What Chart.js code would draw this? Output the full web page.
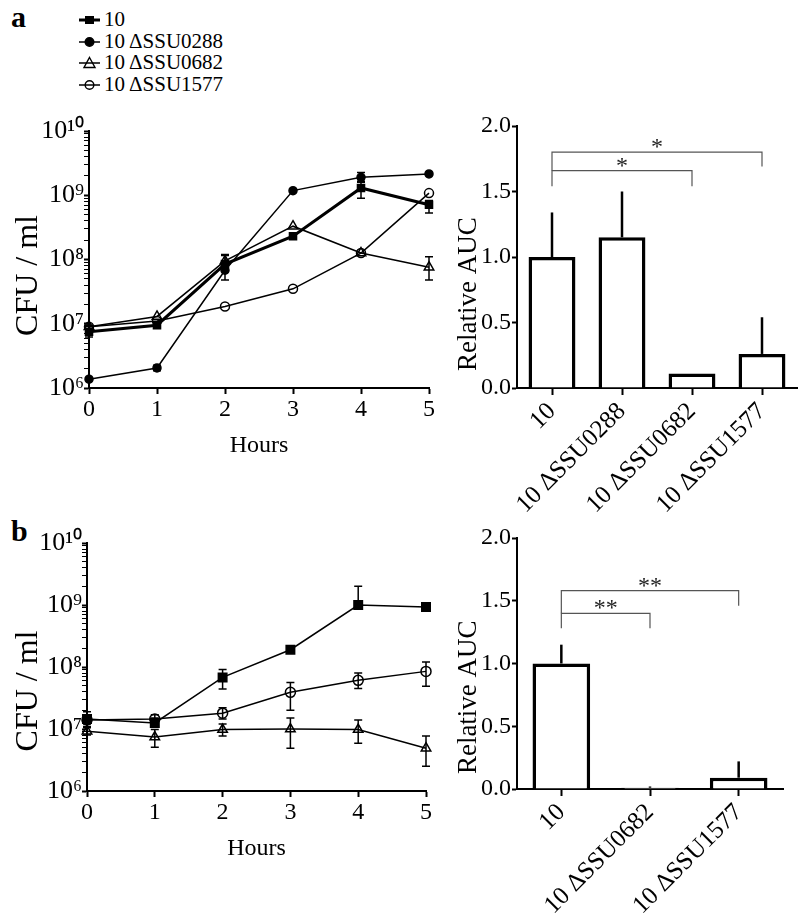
<!DOCTYPE html>
<html>
<head>
<meta charset="utf-8">
<script src="https://cdn.jsdelivr.net/npm/chart.js@4/dist/chart.umd.min.js"></script>
<style>
  body { margin: 0; background: #fff; width: 800px; height: 915px; position: relative; overflow: hidden;
         font-family: "Liberation Serif", "Times New Roman", serif; color: #000; }
  canvas { position: absolute; }
  .tag { position: absolute; font-weight: bold; font-size: 30px; line-height: 30px; }
  #legend { position: absolute; left: 78px; top: 9px; font-size: 21px; line-height: 21.7px; }
  .item { display: flex; align-items: center; height: 21.7px; white-space: nowrap; }
  .item svg { margin-right: 2px; }
</style>
</head>
<body>
<div class="tag" style="left:11px;top:2px">a</div>
<div class="tag" style="left:11px;top:516px">b</div>
<div id="legend"></div>
<canvas id="growth-a" width="445" height="370" style="left:0;top:100px"></canvas>
<canvas id="auc-a" width="370" height="460" style="left:430px;top:100px"></canvas>
<canvas id="growth-b" width="445" height="375" style="left:0;top:500px"></canvas>
<canvas id="auc-b" width="370" height="415" style="left:430px;top:500px"></canvas>
<script>
// x categories and labels
var hours = ["0", "1", "2", "3", "4", "5"];
var strainsA = ["10", "10 ΔSSU0288", "10 ΔSSU0682", "10 ΔSSU1577"];
var strainsB = ["10", "10 ΔSSU0682", "10 ΔSSU1577"];
var cfuTicks = ["10⁶", "10⁷", "10⁸", "10⁹", "10¹⁰"];

// panel a growth (CFU/ml), error bar ends (null = none drawn)
var a10 = [7.5e6, 9.5e6, 8.5e7, 2.3e8, 1.3e9, 7.1e8];
var a10Low = [6.2e6, 8.5e6, 4.8e7, null, 9.0e8, 5.3e8];
var a10High = [9.5e6, 1.05e7, 1.15e8, null, 1.6e9, 8.3e8];
var a0288 = [1.37e6, 2.05e6, 6.8e7, 1.18e9, 1.9e9, 2.15e9];
var a0288Low = [null, 1.85e6, null, null, 1.65e9, null];
var a0288High = [null, 2.25e6, null, null, 2.25e9, null];
var a0682 = [9.0e6, 1.3e7, 9.5e7, 3.3e8, 1.26e8, 7.6e7];
var a0682Low = [null, null, 8.0e7, null, null, 4.8e7];
var a0682High = [null, null, 1.2e8, null, null, 1.1e8];
var a1577 = [9.0e6, 1.1e7, 1.85e7, 3.5e7, 1.26e8, 1.08e9];

// panel b growth (CFU/ml)
var b10 = [1.45e7, 1.25e7, 6.8e7, 1.9e8, 1.0e9, 9.3e8];
var b10Low = [1.1e7, 1.1e7, 4.4e7, null, null, null];
var b10High = [1.9e7, 1.5e7, 9.1e7, null, 2.0e9, null];
var b0682 = [9.2e6, 7.4e6, 9.8e6, 1.0e7, 9.8e6, 4.9e6];
var b0682Low = [8.0e6, 5.1e6, 7.7e6, 4.9e6, 5.9e6, 2.5e6];
var b0682High = [1.05e7, 9.8e6, 1.2e7, 1.5e7, 1.4e7, 7.7e6];
var b1577 = [1.4e7, 1.45e7, 1.8e7, 3.9e7, 6.1e7, 8.5e7];
var b1577Low = [1.2e7, 1.3e7, 1.45e7, 2.0e7, 4.5e7, 4.9e7];
var b1577High = [1.7e7, 1.7e7, 2.2e7, 5.6e7, 8.0e7, 1.2e8];

// relative AUC and top of error bar
var aucA = [1.0, 1.15, 0.11, 0.26];
var aucAHigh = [1.34, 1.50, null, 0.54];
var aucB = [1.0, 0.01, 0.09];
var aucBHigh = [1.15, 0.02, 0.22];
var aucTicks = ["0.0", "0.5", "1.0", "1.5", "2.0"];

// significance brackets: category index from/to, bar height, leg ends, mark
var sigAFrom = [0, 0], sigATo = [2, 3];
var sigATop = [1.66, 1.80], sigALeft = [1.54, 1.66], sigARight = [1.54, 1.69];
var sigAMark = ["*", "*"];
var sigBFrom = [0, 0], sigBTo = [1, 2];
var sigBTop = [1.40, 1.58], sigBLeft = [1.28, 1.40], sigBRight = [1.28, 1.46];
var sigBMark = ["**", "**"];

Chart.defaults.font.family = '"Liberation Serif", "Times New Roman", serif';
Chart.defaults.color = "#000";
Chart.defaults.animation = false;
Chart.defaults.plugins.legend.display = false;
Chart.defaults.plugins.tooltip.enabled = false;

function errorBars(lineWidth, cap) {
    return {
        id: "errorBars",
        afterDatasetsDraw: function (chart) {
            var ctx = chart.ctx, y = chart.scales.y;
            ctx.save();
            ctx.strokeStyle = "#000";
            ctx.lineWidth = lineWidth;
            chart.data.datasets.forEach(function (ds, i) {
                if (!ds.errHigh) return;
                chart.getDatasetMeta(i).data.forEach(function (el, j) {
                    var hi = ds.errHigh[j];
                    var lo = ds.errLow ? ds.errLow[j] : ds.data[j];
                    if (hi == null && lo == null) return;
                    var yTop = y.getPixelForValue(hi == null ? ds.data[j] : hi);
                    var yBot = ds.errLow ? y.getPixelForValue(lo == null ? ds.data[j] : lo) : el.y;
                    ctx.beginPath();
                    ctx.moveTo(el.x, yBot);
                    ctx.lineTo(el.x, yTop);
                    if (cap) {
                        if (hi != null) { ctx.moveTo(el.x - cap, yTop); ctx.lineTo(el.x + cap, yTop); }
                        if (lo != null) { ctx.moveTo(el.x - cap, yBot); ctx.lineTo(el.x + cap, yBot); }
                    }
                    ctx.stroke();
                });
            });
            ctx.restore();
        }
    };
}

function brackets(from, to, top, left, right, marks) {
    return {
        id: "brackets",
        afterDraw: function (chart) {
            var ctx = chart.ctx, x = chart.scales.x, y = chart.scales.y;
            ctx.save();
            ctx.strokeStyle = "#555";
            ctx.lineWidth = 1.2;
            ctx.fillStyle = "#222";
            ctx.font = '24px "Liberation Serif", serif';
            ctx.textAlign = "center";
            ctx.textBaseline = "alphabetic";
            from.forEach(function (f, k) {
                var x1 = x.getPixelForValue(f), x2 = x.getPixelForValue(to[k]);
                var yt = y.getPixelForValue(top[k]);
                ctx.beginPath();
                ctx.moveTo(x1, y.getPixelForValue(left[k]));
                ctx.lineTo(x1, yt);
                ctx.lineTo(x2, yt);
                ctx.lineTo(x2, y.getPixelForValue(right[k]));
                ctx.stroke();
                ctx.fillText(marks[k], (x1 + x2) / 2, yt + 2);
            });
            ctx.restore();
        }
    };
}

function logAxis(width, title, titlePad) {
    return {
        type: "logarithmic",
        min: 1e6,
        max: 1e10,
        afterBuildTicks: function (s) {
            var t = [];
            for (var e = 6; e < 10; e++) {
                for (var m = 1; m < 10; m++) t.push({ value: m * Math.pow(10, e), major: m === 1 });
            }
            t.push({ value: 1e10, major: true });
            s.ticks = t;
        },
        afterFit: function (s) { s.width = width; },
        ticks: {
            autoSkip: false,
            padding: 0,
            font: { size: 26 },
            callback: function (v) {
                var e = Math.round(Math.log10(v));
                return Math.abs(Math.log10(v) - e) < 1e-6 ? cfuTicks[e - 6] : "";
            }
        },
        grid: {
            drawOnChartArea: false,
            tickLength: 5,
            tickColor: "#000",
            tickWidth: function (c) { return c.tick && c.tick.major ? 2 : 1; }
        },
        border: { color: "#000", width: 2 },
        title: { display: true, text: title, font: { size: 32 }, padding: { top: titlePad, bottom: 0 } }
    };
}

function hoursAxis(height, titlePad) {
    return {
        type: "category",
        offset: false,
        afterFit: function (s) { s.height = height; },
        ticks: { font: { size: 24 }, padding: 1, autoSkip: false, maxRotation: 0 },
        grid: { drawOnChartArea: false, offset: false, tickLength: 6, tickWidth: 2, tickColor: "#000" },
        border: { color: "#000", width: 2 },
        title: { display: true, text: "Hours", font: { size: 24 }, padding: { top: 0, bottom: titlePad } }
    };
}

function aucAxis(width, title) {
    return {
        min: 0,
        max: 2,
        afterFit: function (s) { s.width = width; },
        ticks: {
            stepSize: 0.5,
            padding: 1,
            font: { size: 24 },
            callback: function (v) { return aucTicks[Math.round(v * 2)]; }
        },
        grid: { drawOnChartArea: false, tickLength: 5, tickWidth: 2, tickColor: "#000" },
        border: { color: "#000", width: 2 },
        title: { display: true, text: title, font: { size: 27 }, padding: { top: 23, bottom: 0 } }
    };
}

function strainAxis(height) {
    return {
        afterFit: function (s) { s.height = height; },
        ticks: { font: { size: 25 }, padding: 2, autoSkip: false, minRotation: 45, maxRotation: 45 },
        grid: { drawOnChartArea: false, offset: false, tickLength: 7, tickWidth: 2, tickColor: "#000" },
        border: { color: "#000", width: 2 }
    };
}

function series(label, data, low, high, style, fill, radius, width) {
    return {
        label: label,
        data: data,
        errLow: low,
        errHigh: high,
        borderColor: "#000",
        borderWidth: width,
        pointStyle: style,
        pointRadius: radius,
        pointBorderWidth: 1.5,
        pointBorderColor: "#000",
        pointBackgroundColor: fill,
        tension: 0,
        fill: false,
        clip: false
    };
}

var growthA = new Chart(document.getElementById("growth-a").getContext("2d"), {
    type: "line",
    data: {
        labels: hours,
        datasets: [
            series(strainsA[0], a10, a10Low, a10High, "rect", "#000", 5, 3),
            series(strainsA[1], a0288, a0288Low, a0288High, "circle", "#000", 4, 1.5),
            series(strainsA[2], a0682, a0682Low, a0682High, "triangle", "rgba(0,0,0,0)", 5.5, 1.5),
            series(strainsA[3], a1577, null, null, "circle", "rgba(0,0,0,0)", 4.5, 1.5)
        ]
    },
    options: {
        responsive: false,
        layout: { padding: { top: 31, right: 16, left: 0, bottom: 0 } },
        scales: {
            x: hoursAxis(82, 10),
            y: logAxis(89, "CFU / ml    ", 9)
        }
    },
    plugins: [errorBars(1.5, 4)]
});

var barsA = new Chart(document.getElementById("auc-a").getContext("2d"), {
    type: "bar",
    data: {
        labels: strainsA,
        datasets: [{
            data: aucA,
            errHigh: aucAHigh,
            backgroundColor: "#fff",
            borderColor: "#000",
            borderWidth: 3.5,
            barPercentage: 0.67,
            categoryPercentage: 1.0
        }]
    },
    options: {
        responsive: false,
        layout: { padding: { top: 26, right: 3, left: 0, bottom: 0 } },
        scales: {
            x: strainAxis(172),
            y: aucAxis(87, "Relative AUC           ")
        }
    },
    plugins: [errorBars(2.5, 0), brackets(sigAFrom, sigATo, sigATop, sigALeft, sigARight, sigAMark)]
});

var growthB = new Chart(document.getElementById("growth-b").getContext("2d"), {
    type: "line",
    data: {
        labels: hours,
        datasets: [
            series(strainsB[0], b10, b10Low, b10High, "rect", "#000", 6, 1.5),
            series(strainsB[1], b0682, b0682Low, b0682High, "triangle", "rgba(0,0,0,0)", 5.5, 1.5),
            series(strainsB[2], b1577, b1577Low, b1577High, "circle", "rgba(0,0,0,0)", 5, 1.5)
        ]
    },
    options: {
        responsive: false,
        layout: { padding: { top: 43, right: 19, left: 0, bottom: 0 } },
        scales: {
            x: hoursAxis(84, 12),
            y: logAxis(87, "CFU / ml      ", 9)
        }
    },
    plugins: [errorBars(1.5, 4)]
});

var barsB = new Chart(document.getElementById("auc-b").getContext("2d"), {
    type: "bar",
    data: {
        labels: strainsB,
        datasets: [{
            data: aucB,
            errHigh: aucBHigh,
            backgroundColor: "#fff",
            borderColor: "#000",
            borderWidth: 3.5,
            barPercentage: 0.65,
            categoryPercentage: 1.0
        }]
    },
    options: {
        responsive: false,
        layout: { padding: { top: 38, right: 17, left: 0, bottom: 0 } },
        scales: {
            x: strainAxis(126),
            y: aucAxis(87, "Relative AUC          ")
        }
    },
    plugins: [errorBars(2.5, 0), brackets(sigBFrom, sigBTo, sigBTop, sigBLeft, sigBRight, sigBMark)]
});

// legend for panel a, built from the line chart's datasets
function markerSvg(ds) {
    var shape;
    if (ds.pointStyle === "rect") {
        shape = '<rect x="7" y="3" width="9" height="8" fill="#000"/>';
    } else if (ds.pointStyle === "triangle") {
        shape = '<polygon points="11.5,1.5 17,11.5 6,11.5" fill="none" stroke="#000" stroke-width="1.4"/>';
    } else {
        var fill = ds.pointBackgroundColor === "#000" ? "#000" : "none";
        shape = '<circle cx="11.5" cy="7" r="4.3" fill="' + fill + '" stroke="#000" stroke-width="1.4"/>';
    }
    return '<svg width="24" height="14"><line x1="1" y1="7" x2="22" y2="7" stroke="#000" stroke-width="' +
        ds.borderWidth + '"/>' + shape + "</svg>";
}

var legendEl = document.getElementById("legend");
growthA.data.datasets.forEach(function (ds) {
    var row = document.createElement("div");
    row.className = "item";
    row.innerHTML = markerSvg(ds) + "<span>" + ds.label + "</span>";
    legendEl.appendChild(row);
});
</script>
</body>
</html>
